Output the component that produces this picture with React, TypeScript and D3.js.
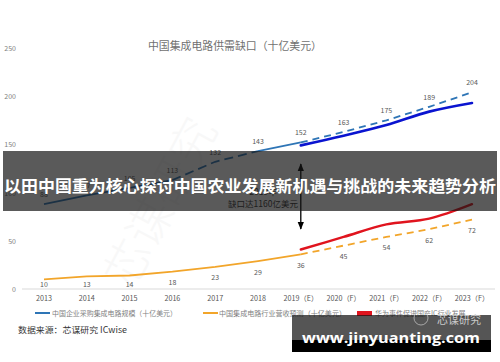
import * as d3 from "d3";

const years = ["2013", "2014", "2015", "2016", "2017", "2018", "2019（E）", "2020（F）", "2021（F）", "2022（F）", "2023（F）"];
// 中国企业采购集成电路规模, 2013-2023
const procurement = [88, 97, 105, 113, 132, 143, 152, 163, 175, 189, 204];
// 中国集成电路行业营收预测, 2013-2023
const revenue = [10, 13, 14, 18, 23, 29, 36, 45, 54, 62, 72];
// 华为事件后的两条线, 2019-2023
const eventDemand = [149, 159, 170, 184, 193];
const eventRevenue = [41, 54, 67, 73, 88];
const yTicks = [0, 50, 100, 150, 200, 250];

const W = 500;
const H = 362;
const font = "'Noto Sans CJK SC', 'Noto Sans', sans-serif";

export default function App() {
    const x = d3.scalePoint<string>().domain(years).range([44, 472]);
    const y = d3.scaleLinear([0, 250], [289, 48]);

    // draws values[from..to] starting at year index `start`
    const seg = (values: number[], start: number, from: number, to: number, curve: d3.CurveFactory = d3.curveLinear) =>
        d3.line<number>()
            .x((d, i) => x(years[start + from + i]) as number)
            .y((d) => y(d))
            .curve(curve)(values.slice(from, to + 1)) as string;

    const xi = (i: number) => x(years[i]) as number;

    return (
        <div style={{ position: "fixed", left: 0, top: 0 }}>
            <svg width={W} height={H} style={{ display: "block", background: "#fff" }}>
                {/* faint watermark */}
                <text x={175} y={210} fontSize={46} fontWeight={300} fill="#f8f8f8" fontFamily={font} transform="rotate(-62 175 210)" textAnchor="middle">芯谋研究</text>

                <text x={235} y={45} fontSize={10.9} fill="#707070" fontFamily={font} textAnchor="middle" dominantBaseline="central" textLength={174} lengthAdjust="spacingAndGlyphs">中国集成电路供需缺口（十亿美元）</text>

                {yTicks.map((t) => (
                    <text key={t} x={16} y={y(t)} fontSize={7} fill="#808080" fontFamily={font} textAnchor="end" dominantBaseline="central">{t}</text>
                ))}
                <line x1={22} x2={495} y1={y(0)} y2={y(0)} stroke="#d9d9d9" strokeWidth={1} />
                {years.map((yr) => (
                    <text key={yr} x={x(yr)} y={298} fontSize={7.2} fill="#555" fontFamily={font} textAnchor="middle" dominantBaseline="central">{yr}</text>
                ))}

                {/* procurement */}
                <path d={seg(procurement, 0, 0, 3)} fill="none" stroke="#2e75b6" strokeWidth={1.8} />
                <path d={seg(procurement, 0, 3, 5)} fill="none" stroke="#2e75b6" strokeWidth={1.8} strokeDasharray="9 5" />
                <path d={seg(procurement, 0, 5, 6)} fill="none" stroke="#2e75b6" strokeWidth={1.8} />
                <path d={seg(procurement, 0, 6, 10)} fill="none" stroke="#2e75b6" strokeWidth={1.8} strokeDasharray="7 5" />
                <path d={seg(eventDemand, 6, 0, 4, d3.curveMonotoneX)} fill="none" stroke="#0a14d0" strokeWidth={2.6} strokeLinecap="round" />
                {procurement.map((v, i) => (
                    <text key={i} x={xi(i)} y={y(v) - 10} fontSize={7} fill="#595959" fontFamily={font} textAnchor="middle" dominantBaseline="central">{v}</text>
                ))}

                {/* revenue */}
                <path d={seg(revenue, 0, 0, 6)} fill="none" stroke="#f2a52a" strokeWidth={1.8} />
                <path d={seg(revenue, 0, 6, 10)} fill="none" stroke="#f2a52a" strokeWidth={1.8} strokeDasharray="7 5" />
                <path d={seg(eventRevenue, 6, 0, 4, d3.curveCatmullRom)} fill="none" stroke="#e0141e" strokeWidth={2.4} strokeLinecap="round" />
                {revenue.map((v, i) => (
                    <text key={i} x={xi(i)} y={Math.min(y(v) + 10.5, 284)} fontSize={7} fill="#595959" fontFamily={font} textAnchor="middle" dominantBaseline="central">{v}</text>
                ))}

                {/* gap annotation */}
                <defs>
                    <marker id="arr" viewBox="0 0 10 10" refX={9} refY={5} markerWidth={6} markerHeight={6} orient="auto-start-reverse">
                        <path d="M0,1 L10,5 L0,9 z" fill="#000" />
                    </marker>
                </defs>
                <line x1={xi(6)} x2={xi(6)} y1={164} y2={229} stroke="#000" strokeWidth={1.3} markerStart="url(#arr)" markerEnd="url(#arr)" />
                <text x={263} y={191} fontSize={8.5} fill="#333" fontFamily={font} textAnchor="middle" dominantBaseline="central">2019年</text>
                <text x={263} y={203} fontSize={8.5} fill="#333" fontFamily={font} textAnchor="middle" dominantBaseline="central">缺口达1160亿美元</text>

                {/* legend */}
                <line x1={35} x2={50} y1={313} y2={313} stroke="#2e75b6" strokeWidth={2} />
                <text x={52} y={313} fontSize={7} fill="#7f7f7f" fontFamily={font} dominantBaseline="central" textLength={125} lengthAdjust="spacingAndGlyphs">中国企业采购集成电路规模（十亿美元）</text>
                <line x1={203} x2={218} y1={313} y2={313} stroke="#f2a52a" strokeWidth={2} />
                <text x={219} y={313} fontSize={7} fill="#7f7f7f" fontFamily={font} dominantBaseline="central" textLength={127} lengthAdjust="spacingAndGlyphs">中国集成电路行业营收预测（十亿美元）</text>
                <rect x={357} y={311} width={15} height={5} fill="#e0141e" />
                <text x={375} y={313} fontSize={7} fill="#7f7f7f" fontFamily={font} dominantBaseline="central">华为事件促进国产IC行业发展</text>

                <text x={18} y={329} fontSize={8.5} fill="#333" fontFamily={font} dominantBaseline="central" textLength={109} lengthAdjust="spacingAndGlyphs">数据来源：芯谋研究 ICwise</text>

                {/* overlay band + headline */}
                <rect x={3} y={151} width={494} height={60} fill="rgb(20,20,20)" fillOpacity={0.7} />
                <text x={250} y={184.5} fontSize={16.4} fontWeight="bold" fill="#fff" fontFamily={font} textAnchor="middle" dominantBaseline="central" textLength={492} lengthAdjust="spacingAndGlyphs">以田中国重为核心探讨中国农业发展新机遇与挑战的未来趋势分析</text>

                {/* site stamp */}
                <rect x={292} y={315} width={199} height={25} fill="rgb(20,20,20)" fillOpacity={0.72} />
                <rect x={292} y={340} width={199} height={12} fill="#000" />
                <circle cx={421} cy={318} r={7} fill="none" stroke="#bbb" strokeWidth={0.8} />
                <text x={459} y={319} fontSize={11} fill="#c8c8c8" fontFamily={font} textAnchor="middle" dominantBaseline="central">芯谋研究</text>
                <text x={391} y={337} fontSize={15} fontWeight="bold" fill="#fff" fontFamily="'Open Sans', 'Noto Sans', sans-serif" textAnchor="middle" dominantBaseline="central" textLength={178} lengthAdjust="spacingAndGlyphs">www.jinyuanting.com</text>
            </svg>
        </div>
    );
}
